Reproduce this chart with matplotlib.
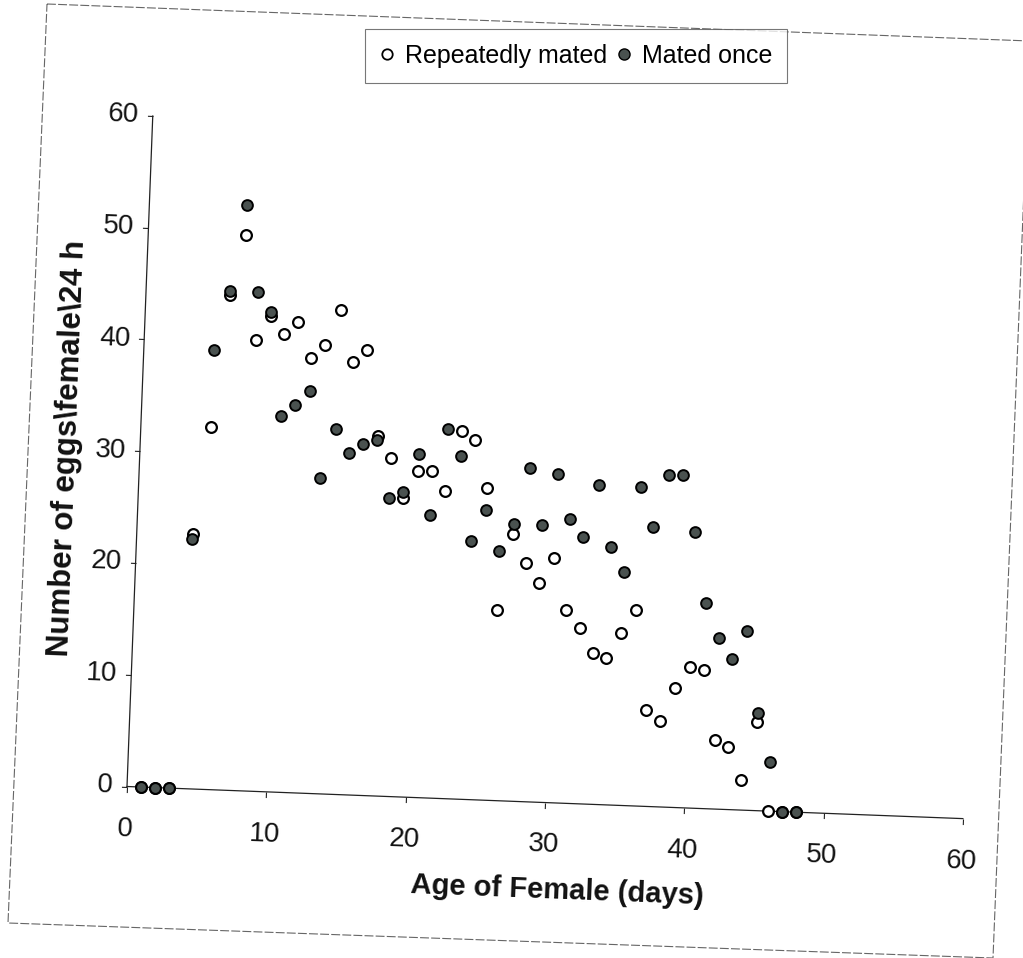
import numpy as np
import matplotlib
matplotlib.use("Agg")
import matplotlib.pyplot as plt
from matplotlib.transforms import Affine2D
from matplotlib.lines import Line2D
import matplotlib.patches as mpatches
import mpl_toolkits.axisartist.floating_axes as floating_axes
from mpl_toolkits.axisartist.grid_finder import FixedLocator, DictFormatter

plt.rcParams['font.family'] = ['Liberation Sans', 'DejaVu Sans']

# ---------------- data ----------------
days = list(range(1, 49))
repeatedly_mated = [0, 0, 0, 22.8, 32.4, 44.3, 49.7, 40.3, 42.5, 41.0,
                    42.1, 38.9, 40.1, 43.3, 38.7, 39.8, 32.2, 30.3, 26.7, 29.2,
                    29.2, 27.5, 32.9, 32.2, 27.9, 17.0, 23.9, 21.3, 19.6, 21.9,
                    17.3, 15.7, 13.5, 13.1, 15.4, 17.5, 8.6, 7.7, 10.7, 12.6,
                    12.4, 6.2, 5.6, 2.7, 7.9, 0, 0, 0]
mated_once = [0, 0, 0, 22.3, 39.3, 44.6, 52.4, 44.6, 42.9, 33.6,
              34.7, 36.0, 28.2, 32.7, 30.6, 31.4, 31.8, 26.7, 27.3, 30.7,
              25.3, 33.0, 30.7, 23.1, 25.9, 22.3, 24.8, 29.8, 24.8, 29.4,
              25.4, 23.9, 28.6, 23.1, 20.9, 28.5, 25.0, 29.7, 29.7, 24.7,
              18.4, 15.3, 13.5, 16.0, 8.7, 4.4, 0, 0]
x_ticks = [0, 10, 20, 30, 40, 50, 60]
y_ticks = [0, 10, 20, 30, 40, 50, 60]
x_range = (0, 60)
y_range = (0, 60)
series_labels = ["Repeatedly mated", "Mated once"]
x_label = "Age of Female (days)"
y_label = "Number of eggs\\female\\24 h"

# ---------------- figure ----------------
W, H, DPI = 1023, 958, 100
fig = plt.figure(figsize=(W / DPI, H / DPI), dpi=DPI)

ANGLE = -2.2                      # the scanned page is slightly tilted
SX = 836.5 / (x_range[1] - x_range[0])
SY = 671.0 / (y_range[1] - y_range[0])
tr = Affine2D().scale(SX, SY).rotate_deg(ANGLE)

gh = floating_axes.GridHelperCurveLinear(
    tr, extremes=(x_range[0], x_range[1], y_range[0], y_range[1]),
    grid_locator1=FixedLocator(x_ticks), grid_locator2=FixedLocator(y_ticks),
    tick_formatter1=DictFormatter({v: str(v) for v in x_ticks}),
    tick_formatter2=DictFormatter({v: str(v) for v in y_ticks}))

corners = tr.transform([[x_range[0], y_range[0]], [x_range[1], y_range[0]],
                        [x_range[1], y_range[1]], [x_range[0], y_range[1]]])
xmin, ymin = corners.min(axis=0)
xmax, ymax = corners.max(axis=0)
cx, cy = (xmin + xmax) / 2, (ymin + ymax) / 2
bw, bh = (xmax - xmin) * 1.02, (ymax - ymin) * 1.02
ox, oy = 127.0, H - 786.5          # pixel position of the origin
left = ox + cx - bw / 2
bottom = oy + cy - bh / 2
ax = fig.add_axes([left / W, bottom / H, bw / W, bh / H],
                  axes_class=floating_axes.FloatingAxes, grid_helper=gh)

for side in ("top", "right"):
    ax.axis[side].set_visible(False)
for side in ("bottom", "left"):
    a = ax.axis[side]
    a.line.set_color("#222222")
    a.line.set_linewidth(0.9)
    a.major_ticks.set_tick_out(True)
    a.major_ticks.set_ticksize(4)
    a.major_ticks.set_color("#222222")
    a.major_ticklabels.set_fontsize(20)
    a.major_ticklabels.set_color("#111111")
    a.label.set_visible(False)
ax.axis["bottom"].major_ticklabels.set_pad(18)
ax.axis["left"].major_ticklabels.set_pad(6)

aux = ax.get_aux_axes(tr)
FILL = "#4a5250"
aux.scatter(days, repeatedly_mated, s=60, facecolors="white", edgecolors="black",
            linewidths=1.6, clip_on=False, zorder=3)
aux.scatter(days, mated_once, s=60, facecolors=FILL, edgecolors="black",
            linewidths=1.4, clip_on=False, zorder=4)

# axis titles, placed along the tilted axes
aux.annotate(x_label, xy=(31.1, y_range[0]), xytext=(-3.3, -87),
             textcoords="offset pixels", ha="center", va="center",
             rotation=ANGLE, rotation_mode="anchor", fontsize=21,
             fontweight="bold", color="#111111", annotation_clip=False)
aux.annotate(y_label, xy=(x_range[0], 30), xytext=(-72, 2.8),
             textcoords="offset pixels", ha="center", va="center",
             rotation=90 + ANGLE, rotation_mode="anchor", fontsize=22.5,
             fontweight="bold", color="#111111", annotation_clip=False)

handles = [Line2D([], [], ls="none", marker="o", mfc="white", mec="black",
                  ms=7.5, mew=1.3, label=series_labels[0]),
           Line2D([], [], ls="none", marker="o", mfc=FILL, mec="black",
                  ms=8, mew=1.0, label=series_labels[1])]
leg = fig.legend(handles=handles, loc="center", bbox_to_anchor=(576 / W, 1 - 56 / H),
                 ncol=2, frameon=True, fancybox=False, edgecolor="#555555",
                 fontsize=18, handlelength=0.6, handletextpad=0.4,
                 columnspacing=0.4, borderpad=0.6)
leg.get_frame().set_linewidth(0.8)

# scanned page border
border = [(47, 4), (1030, 41), (993, 958), (8, 923)]
fig.add_artist(mpatches.Polygon([(x / W, 1 - y / H) for x, y in border], closed=True,
                                fill=False, edgecolor="#666666", linewidth=0.8,
                                linestyle=(0, (8, 2)), transform=fig.transFigure))

fig.savefig("out.png", dpi=DPI)
